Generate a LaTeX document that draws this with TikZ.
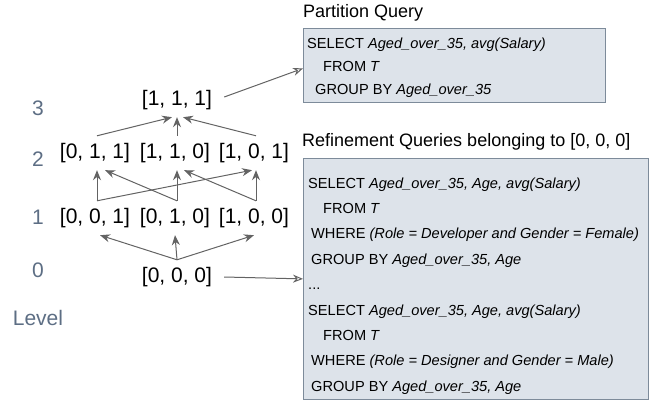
\documentclass[tikz,border=0pt]{standalone}
\usepackage{fontspec}
\setmainfont{Liberation Sans}
\usepackage{tikz}
\usetikzlibrary{arrows.meta, positioning}
\definecolor{box-fill}{HTML}{DDE3EA}
\definecolor{box-line}{HTML}{7D8B9A}
\definecolor{level-gray}{HTML}{5D6E84}
\definecolor{edge-gray}{HTML}{636363}

\tikzset{
  lattice/.style={inner sep=0pt, minimum height=34pt, font=\fontsize{21}{21}\selectfont},
  levelnum/.style={text=level-gray, inner sep=0pt, font=\fontsize{21}{21}\selectfont},
  uparrow/.style={draw=edge-gray, line width=1pt, -{Stealth[length=10pt,width=8pt]}},
  toquery/.style={draw=edge-gray, line width=1pt, -{Stealth[open,length=10pt,width=8pt]}},
  querybox/.style={draw=box-line, fill=box-fill, line width=0.8pt, inner sep=0pt},
  sql/.style={anchor=base west, inner sep=0pt, font=\fontsize{14.6}{14.6}\selectfont},
  boxtitle/.style={anchor=base west, inner sep=0pt, font=\fontsize{18}{18}\selectfont}
}

\begin{document}
\begin{tikzpicture}[x=1pt, y=-1pt]%Lattice with queries
\useasboundingbox (0,0) rectangle (657,402);
% level labels
  \node[levelnum] (lv3) at (38,108) {3};
  \node[levelnum] (lv2) at (38,159) {2};
  \node[levelnum] (lv1) at (38,217) {1};
  \node[levelnum] (lv0) at (38,270) {0};
  \node[levelnum] (lvname) at (38,318) {Level};
% lattice
  \node[lattice] (l111) at (177,100) {[1, 1, 1]};
  \node[lattice] (l011) at (95,153) {[0, 1, 1]};
  \node[lattice] (l110) at (175,153) {[1, 1, 0]};
  \node[lattice] (l101) at (254,153) {[1, 0, 1]};
  \node[lattice] (l001) at (95,218) {[0, 0, 1]};
  \node[lattice] (l010) at (175,218) {[0, 1, 0]};
  \node[lattice] (l100) at (254,218) {[1, 0, 0]};
  \node[lattice] (l000) at (177,277) {[0, 0, 0]};
  \draw[uparrow] ([xshift=2pt]l011.north) -- ([xshift=-5pt]l111.south);
  \draw[uparrow] ([xshift=2pt]l110.north) -- (l111.south);
  \draw[uparrow] ([xshift=2pt]l101.north) -- ([xshift=6pt]l111.south);
  \draw[uparrow] ([xshift=2pt]l001.north) -- ([xshift=2pt]l011.south);
  \draw[uparrow] ([xshift=2pt]l001.north) -- ([xshift=-2pt]l101.south);
  \draw[uparrow] ([xshift=2pt]l010.north) -- ([xshift=2pt]l110.south);
  \draw[uparrow] ([xshift=2pt]l010.north) -- ([xshift=10pt]l011.south);
  \draw[uparrow] ([xshift=2pt]l100.north) -- ([xshift=2pt]l101.south);
  \draw[uparrow] ([xshift=2pt]l100.north) -- ([xshift=9pt]l110.south);
  \draw[uparrow] (l000.north) -- ([xshift=5pt]l001.south);
  \draw[uparrow] (l000.north) -- (l010.south);
  \draw[uparrow] (l000.north) -- (l100.south);
% partition query
  \node[boxtitle] (parttitle) at (303,17) {Partition Query};
  \node[querybox, minimum width=302pt, minimum height=74pt, anchor=north west] (part) at (303,28) {};
  \node[sql] (p1) at (307,48) {SELECT \textit{Aged\_over\_35, avg(Salary)}};
  \node[sql] (p2) at (323,71) {FROM \textit{T}};
  \node[sql] (p3) at (315,94) {GROUP BY \textit{Aged\_over\_35}};
  \draw[toquery] ([xshift=12pt,yshift=3pt]l111.east) -- ([yshift=-3pt]part.west);
% refinement queries
  \node[boxtitle] (reftitle) at (302,146) {Refinement Queries belonging to [0, 0, 0]};
  \node[querybox, minimum width=345pt, minimum height=241pt, anchor=north west] (refine) at (303,158) {};
  \node[sql] (r1) at (308,188) {SELECT \textit{Aged\_over\_35, Age, avg(Salary)}};
  \node[sql] (r2) at (323,213.4) {FROM \textit{T}};
  \node[sql] (r3) at (311,238.8) {WHERE \textit{(Role = Developer and Gender = Female)}};
  \node[sql] (r4) at (311,264.2) {GROUP BY \textit{Aged\_over\_35, Age}};
  \node[sql] (r5) at (308,289.6) {...};
  \node[sql] (r6) at (308,315) {SELECT \textit{Aged\_over\_35, Age, avg(Salary)}};
  \node[sql] (r7) at (323,340.4) {FROM \textit{T}};
  \node[sql] (r8) at (311,365.8) {WHERE \textit{(Role = Designer and Gender = Male)}};
  \node[sql] (r9) at (311,391.2) {GROUP BY \textit{Aged\_over\_35, Age}};
  \draw[toquery] ([xshift=12pt]l000.east) -- (refine.west);
\end{tikzpicture}
\end{document}
